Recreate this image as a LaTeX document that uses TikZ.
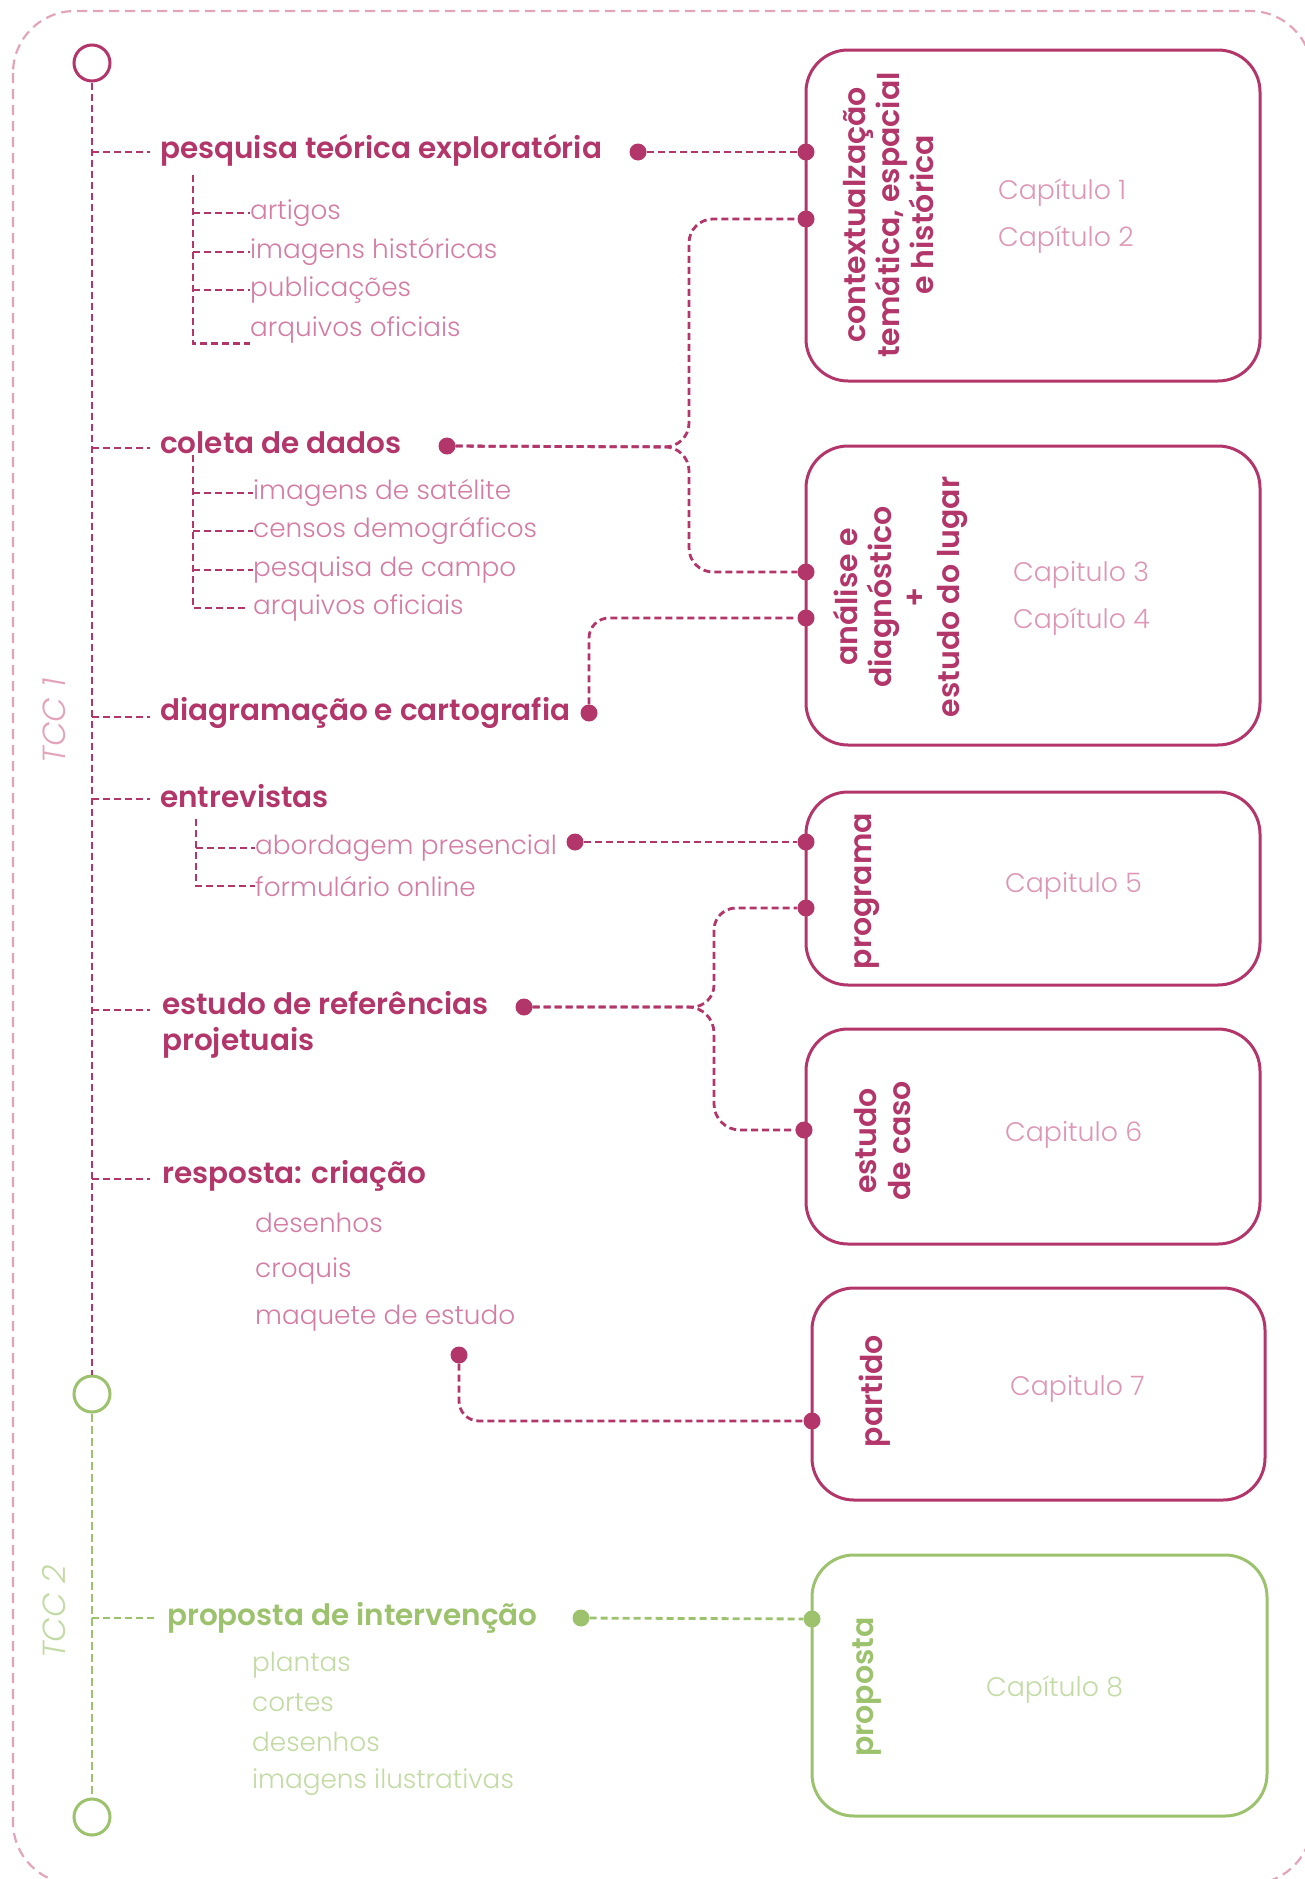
\documentclass[tikz,border=0pt]{standalone}
\usepackage{fontspec}
\setmainfont{Poppins}[UprightFont={* Light},BoldFont={* SemiBold},ItalicFont={* Light Italic}]
\usetikzlibrary{positioning}

\definecolor{wine}{HTML}{B3366A}
\definecolor{rose}{HTML}{D47CA3}
\definecolor{blush}{HTML}{E3A3BB}
\definecolor{leaf}{HTML}{9DC26D}
\definecolor{sprout}{HTML}{C2DAA3}

\newcommand\headsize{\fontsize{29.5}{36}\selectfont\bfseries}
\newcommand\itemsize{\fontsize{26.3}{30}\selectfont}

\tikzset{
  link/.style={line width=2.8pt,dash pattern=on 7pt off 4pt,wine},
  frame/.style={line width=2.2pt,dash pattern=on 10pt off 6pt,blush,rounded corners=62pt},
  ring/.style={circle,draw,line width=3pt,minimum size=36pt,inner sep=0pt,fill=white},
  bead/.style={circle,fill=wine,inner sep=0pt,minimum size=17pt},
  topic/.style={anchor=west,inner sep=0pt,text=wine,font=\headsize,align=left},
  item/.style={anchor=west,inner sep=0pt,text=rose,font=\itemsize},
  stage/.style={draw=wine,line width=3pt,rounded corners=42pt,inner sep=0pt},
  title/.style={rotate=90,text=wine,font=\fontsize{30}{34}\selectfont\bfseries,align=center,inner sep=0pt},
  chapter/.style={anchor=west,inner sep=0pt,text=rose!80,font=\fontsize{26.8}{30}\selectfont},
  era/.style={rotate=90,inner sep=0pt,font=\fontsize{32}{36}\selectfont\itshape},
}

\begin{document}
\begin{tikzpicture}[x=1pt,y=-1pt]
  \useasboundingbox (0,0) rectangle (1305,1879);
  \draw[frame] (13,11) rectangle (1312,1884);

  % time line
  \node (start) [ring,draw=wine]  at (92,63)   {};
  \node (mid)   [ring,draw=leaf]  at (92,1394) {};
  \node (end)   [ring,draw=leaf]  at (92,1817) {};
  \draw[link] (start) -- (mid);
  \draw[link,leaf,line width=2.2pt,dash pattern=on 8pt off 4pt] (mid) -- (end);
  \node (tcc1) [era,text=blush]  at (54,721)  {TCC 1};
  \node (tcc2) [era,text=sprout] at (54,1612) {TCC 2};

  % stages
  \node (ctx)  [stage,minimum width=454pt,minimum height=331pt] at (1033,215.5)  {};
  \node (diag) [stage,minimum width=454pt,minimum height=299pt] at (1033,595.5)  {};
  \node (prog) [stage,minimum width=454pt,minimum height=193pt] at (1033,888.5)  {};
  \node (case) [stage,minimum width=454pt,minimum height=215pt] at (1033,1136.5) {};
  \node (part) [stage,minimum width=453pt,minimum height=212pt] at (1038.5,1394) {};
  \node (prop) [stage,draw=leaf,minimum width=455pt,minimum height=261pt] at (1039.5,1685.5) {};

  \node (ctx title)  [title] at (889,215)  {contextualzação\\temática, espacial\\e histórica};
  \node (diag title) [title] at (900,597)  {análise e\\diagnóstico\\+\\estudo do lugar};
  \node (prog title) [title] at (867,891)  {programa};
  \node (case title) [title] at (883,1141) {estudo\\de caso};
  \node (part title) [title] at (875,1391) {partido};
  \node (prop title) [title,text=leaf] at (867,1687) {proposta};

  \node (ch1) [chapter] at (998,193)   {Capítulo 1};
  \node (ch2) [chapter] at (998,240)   {Capítulo 2};
  \node (ch3) [chapter] at (1013,575)  {Capitulo 3};
  \node (ch4) [chapter] at (1013,622)  {Capítulo 4};
  \node (ch5) [chapter] at (1005,886)  {Capitulo 5};
  \node (ch6) [chapter] at (1005,1135) {Capitulo 6};
  \node (ch7) [chapter] at (1010,1389) {Capitulo 7};
  \node (ch8) [chapter,text=sprout] at (986,1690) {Capítulo 8};

  % pins on the stages
  \node (ctx pin1)  [bead] at (806,152)  {};
  \node (ctx pin2)  [bead] at (806,219)  {};
  \node (diag pin1) [bead] at (806,572)  {};
  \node (diag pin2) [bead] at (806,618)  {};
  \node (prog pin1) [bead] at (806,842)  {};
  \node (prog pin2) [bead] at (806,908)  {};
  \node (case pin)  [bead] at (804,1130) {};
  \node (part pin)  [bead] at (812,1421) {};
  \node (prop pin)  [bead,fill=leaf] at (812,1619) {};

  % topics
  \node (research) [topic] at (160,150)  {pesquisa teórica exploratória};
  \node (survey)   [topic] at (160,443)  {coleta de dados};
  \node (mapping)  [topic] at (160,713)  {diagramação e cartografia};
  \node (talks)    [topic] at (160,796)  {entrevistas};
  \node (refs)     [topic] at (162,1025) {estudo de referências\\projetuais};
  \node (answer)   [topic] at (162,1176) {resposta: criação};
  \node (plan)     [topic,text=leaf] at (167,1618) {proposta de intervenção};

  \foreach \t/\y in {research/152,survey/448,mapping/717,talks/799,answer/1179}
    \draw[link] (start |- 0,\y) -- (150,\y);
  \draw[link] (start |- 0,1010) -- (150,1010);
  \draw[link,leaf] (mid |- 0,1618) -- (155,1618);

  % items
  \node (papers)  [item] at (250,213) {artigos};
  \node (photos)  [item] at (250,252) {imagens históricas};
  \node (books)   [item] at (250,290) {publicações};
  \node (files)   [item] at (250,330) {arquivos oficiais};
  \draw[link] (193,175) |- (files.south west);
  \foreach \n in {papers,photos,books}
    \draw[link] (193,0 |- \n.west) -- (\n.west);

  \node (sat)     [item] at (253,493) {imagens de satélite};
  \node (census)  [item] at (253,531) {censos demográficos};
  \node (field)   [item] at (253,570) {pesquisa de campo};
  \node (files2)  [item] at (253,608) {arquivos oficiais};
  \draw[link] (193,455) |- ([xshift=-8pt]files2.west);
  \foreach \n in {sat,census,field}
    \draw[link] (193,0 |- \n.west) -- (\n.west);

  \node (visit)   [item] at (255,848) {abordagem presencial};
  \node (form)    [item] at (255,886) {formulário online};
  \draw[link] (196,819) |- (form.west);
  \draw[link] (196,0 |- visit.west) -- (visit.west);

  \node (sketch)  [item] at (255,1223) {desenhos};
  \node (draft)   [item] at (255,1271) {croquis};
  \node (model)   [item] at (255,1318) {maquete de estudo};

  \node (plans)   [item,text=sprout] at (252,1665) {plantas};
  \node (cuts)    [item,text=sprout] at (252,1703) {cortes};
  \node (draws)   [item,text=sprout] at (252,1742) {desenhos};
  \node (renders) [item,text=sprout] at (252,1782) {imagens ilustrativas};

  % beads after the topics
  \node (research dot) [bead] at (638,152)  {};
  \node (survey dot)   [bead] at (447,446)  {};
  \node (mapping dot)  [bead] at (589,713)  {};
  \node (visit dot)    [bead] at (575,842)  {};
  \node (refs dot)     [bead] at (524,1007) {};
  \node (answer dot)   [bead] at (459,1355) {};
  \node (plan dot)     [bead,fill=leaf] at (581,1618) {};

  % links to the stages
  \draw[link] (research dot) -- (ctx pin1);
  \draw[link,rounded corners=24pt] (survey dot) -- (689,447) |- (ctx pin2);
  \draw[link,rounded corners=24pt] (survey dot) -- (689,447) |- (diag pin1);
  \draw[link,rounded corners=20pt] (mapping dot) |- (diag pin2);
  \draw[link] (visit dot) -- (prog pin1);
  \draw[link,rounded corners=22pt] (refs dot) -- (714,1007) |- (prog pin2);
  \draw[link,rounded corners=26pt] (refs dot) -- (714,1007) |- (case pin);
  \draw[link,rounded corners=20pt] (answer dot) |- (part pin);
  \draw[link,leaf] (plan dot) -- (prop pin);
\end{tikzpicture}
\end{document}
